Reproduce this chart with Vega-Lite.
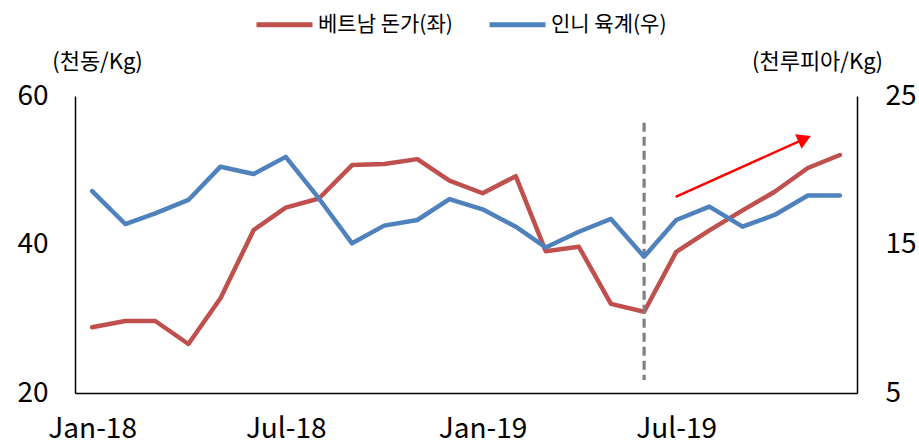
{
  "$schema": "https://vega.github.io/schema/vega-lite/v6.json",
  "width": 782,
  "height": 297,
  "autosize": {"type": "none"},
  "padding": {"left": 75, "top": 96, "right": 62, "bottom": 51},
  "background": "white",
  "config": {
    "font": "Noto Sans CJK KR",
    "view": {"stroke": null},
    "axis": {
      "grid": false,
      "ticks": false,
      "tickSize": 0,
      "domainColor": "#000000",
      "domainWidth": 1.5,
      "labelFont": "Noto Sans CJK KR",
      "labelColor": "#000000",
      "labelFontSize": 28,
      "labelFlush": false,
      "labelOverlap": false,
      "titleFont": "Noto Sans CJK KR",
      "titleFontSize": 22,
      "titleFontWeight": "normal",
      "titleColor": "#000000"
    }
  },
  "datasets": {
    "series": [
      {"date": "2018-01-01T00:00:00", "series": "베트남 돈가(좌)", "v": 28.85},
      {"date": "2018-02-01T00:00:00", "series": "베트남 돈가(좌)", "v": 29.7},
      {"date": "2018-03-01T00:00:00", "series": "베트남 돈가(좌)", "v": 29.7},
      {"date": "2018-04-01T00:00:00", "series": "베트남 돈가(좌)", "v": 26.6},
      {"date": "2018-05-01T00:00:00", "series": "베트남 돈가(좌)", "v": 32.75},
      {"date": "2018-06-01T00:00:00", "series": "베트남 돈가(좌)", "v": 41.95},
      {"date": "2018-07-01T00:00:00", "series": "베트남 돈가(좌)", "v": 44.96},
      {"date": "2018-08-01T00:00:00", "series": "베트남 돈가(좌)", "v": 46.2},
      {"date": "2018-09-01T00:00:00", "series": "베트남 돈가(좌)", "v": 50.7},
      {"date": "2018-10-01T00:00:00", "series": "베트남 돈가(좌)", "v": 50.84},
      {"date": "2018-11-01T00:00:00", "series": "베트남 돈가(좌)", "v": 51.5},
      {"date": "2018-12-01T00:00:00", "series": "베트남 돈가(좌)", "v": 48.6},
      {"date": "2019-01-01T00:00:00", "series": "베트남 돈가(좌)", "v": 46.9},
      {"date": "2019-02-01T00:00:00", "series": "베트남 돈가(좌)", "v": 49.2},
      {"date": "2019-03-01T00:00:00", "series": "베트남 돈가(좌)", "v": 39.1},
      {"date": "2019-04-01T00:00:00", "series": "베트남 돈가(좌)", "v": 39.7},
      {"date": "2019-05-01T00:00:00", "series": "베트남 돈가(좌)", "v": 32.0},
      {"date": "2019-06-01T00:00:00", "series": "베트남 돈가(좌)", "v": 30.95},
      {"date": "2019-07-01T00:00:00", "series": "베트남 돈가(좌)", "v": 39.0},
      {"date": "2019-08-01T00:00:00", "series": "베트남 돈가(좌)", "v": 41.9},
      {"date": "2019-09-01T00:00:00", "series": "베트남 돈가(좌)", "v": 44.6},
      {"date": "2019-10-01T00:00:00", "series": "베트남 돈가(좌)", "v": 47.1},
      {"date": "2019-11-01T00:00:00", "series": "베트남 돈가(좌)", "v": 50.3},
      {"date": "2019-12-01T00:00:00", "series": "베트남 돈가(좌)", "v": 52.05},
      {"date": "2018-01-01T00:00:00", "series": "인니 육계(우)", "v": 18.6},
      {"date": "2018-02-01T00:00:00", "series": "인니 육계(우)", "v": 16.38},
      {"date": "2018-03-01T00:00:00", "series": "인니 육계(우)", "v": 17.1},
      {"date": "2018-04-01T00:00:00", "series": "인니 육계(우)", "v": 18.0},
      {"date": "2018-05-01T00:00:00", "series": "인니 육계(우)", "v": 20.24},
      {"date": "2018-06-01T00:00:00", "series": "인니 육계(우)", "v": 19.75},
      {"date": "2018-07-01T00:00:00", "series": "인니 육계(우)", "v": 20.9},
      {"date": "2018-08-01T00:00:00", "series": "인니 육계(우)", "v": 18.1},
      {"date": "2018-09-01T00:00:00", "series": "인니 육계(우)", "v": 15.08},
      {"date": "2018-10-01T00:00:00", "series": "인니 육계(우)", "v": 16.27},
      {"date": "2018-11-01T00:00:00", "series": "인니 육계(우)", "v": 16.65},
      {"date": "2018-12-01T00:00:00", "series": "인니 육계(우)", "v": 18.06},
      {"date": "2019-01-01T00:00:00", "series": "인니 육계(우)", "v": 17.37},
      {"date": "2019-02-01T00:00:00", "series": "인니 육계(우)", "v": 16.2},
      {"date": "2019-03-01T00:00:00", "series": "인니 육계(우)", "v": 14.8},
      {"date": "2019-04-01T00:00:00", "series": "인니 육계(우)", "v": 15.86},
      {"date": "2019-05-01T00:00:00", "series": "인니 육계(우)", "v": 16.72},
      {"date": "2019-06-01T00:00:00", "series": "인니 육계(우)", "v": 14.18},
      {"date": "2019-07-01T00:00:00", "series": "인니 육계(우)", "v": 16.65},
      {"date": "2019-08-01T00:00:00", "series": "인니 육계(우)", "v": 17.55},
      {"date": "2019-09-01T00:00:00", "series": "인니 육계(우)", "v": 16.2},
      {"date": "2019-10-01T00:00:00", "series": "인니 육계(우)", "v": 16.99},
      {"date": "2019-11-01T00:00:00", "series": "인니 육계(우)", "v": 18.3},
      {"date": "2019-12-01T00:00:00", "series": "인니 육계(우)", "v": 18.3}
    ],
    "divider": [
      {"date": "2019-06-01T00:00:00", "v": 56.4, "v2": 21.75}
    ],
    "arrow": [
      {"date": "2019-06-30T12:00:00", "v": 46.4},
      {"date": "2019-10-29T00:00:00", "v": 54.24}
    ],
    "arrowhead": [
      {"date": "2019-10-29T00:00:00", "v": 54.24}
    ]
  },
  "encoding": {
    "x": {
      "field": "date",
      "type": "temporal",
      "scale": {"domain": [{"year": 2017, "month": 12, "date": 16}, {"year": 2019, "month": 12, "date": 17}]},
      "axis": {
        "title": null,
        "format": "%b-%y",
        "values": [
          {"year": 2018, "month": 1, "date": 1},
          {"year": 2018, "month": 7, "date": 1},
          {"year": 2019, "month": 1, "date": 1},
          {"year": 2019, "month": 7, "date": 1}
        ],
        "labelPadding": 22,
        "labelFontSize": 28
      }
    }
  },
  "layer": [
    {
      "layer": [
        {
          "data": {"name": "series"},
          "transform": [{"filter": "datum.series === '베트남 돈가(좌)'"}],
          "mark": {"type": "line", "strokeWidth": 4.5, "strokeJoin": "round", "strokeCap": "round"},
          "encoding": {
            "y": {
              "field": "v", "type": "quantitative",
              "scale": {"domain": [20, 60], "nice": false, "zero": false},
              "axis": {"title": "(천동/Kg)", "values": [20, 40, 60], "labelPadding": 27, "titleAngle": 0, "titleAlign": "center", "titleBaseline": "middle", "titleX": 22, "titleY": -35}
            },
            "color": {
              "field": "series", "type": "nominal",
              "scale": {"domain": ["베트남 돈가(좌)", "인니 육계(우)"], "range": ["#C0504D", "#4F81BD"]},
              "legend": {
                "orient": "none", "legendX": 179, "legendY": -102, "direction": "horizontal",
                "title": null, "symbolType": "stroke", "symbolSize": 3136, "symbolStrokeWidth": 5,
                "labelFont": "Noto Sans CJK KR", "labelFontSize": 21, "labelColor": "#000000",
                "columnPadding": 26, "padding": 0, "labelOffset": 3
              }
            }
          }
        },
        {
          "data": {"name": "divider"},
          "mark": {"type": "rule", "color": "#808080", "strokeWidth": 3.2, "strokeDash": [9, 5]},
          "encoding": {
            "y": {"field": "v", "type": "quantitative", "axis": {"title": "(천동/Kg)", "values": [20, 40, 60], "labelPadding": 27, "titleAngle": 0, "titleAlign": "center", "titleBaseline": "middle", "titleX": 22, "titleY": -35}},
            "y2": {"field": "v2"}
          }
        },
        {
          "data": {"name": "arrow"},
          "mark": {"type": "line", "color": "#FF0000", "strokeWidth": 2.5},
          "encoding": {
            "y": {"field": "v", "type": "quantitative", "axis": {"title": "(천동/Kg)", "values": [20, 40, 60], "labelPadding": 27, "titleAngle": 0, "titleAlign": "center", "titleBaseline": "middle", "titleX": 22, "titleY": -35}}
          }
        },
        {
          "data": {"name": "arrowhead"},
          "mark": {"type": "point", "shape": "triangle-up", "filled": true, "color": "#FF0000", "opacity": 1, "size": 250, "angle": 65.8},
          "encoding": {
            "y": {"field": "v", "type": "quantitative", "axis": {"title": "(천동/Kg)", "values": [20, 40, 60], "labelPadding": 27, "titleAngle": 0, "titleAlign": "center", "titleBaseline": "middle", "titleX": 22, "titleY": -35}}
          }
        }
      ]
    },
    {
      "data": {"name": "series"},
      "transform": [{"filter": "datum.series === '인니 육계(우)'"}],
      "mark": {"type": "line", "strokeWidth": 4.5, "strokeJoin": "round", "strokeCap": "round"},
      "encoding": {
        "y": {
          "field": "v", "type": "quantitative",
          "scale": {"domain": [5, 25], "nice": false, "zero": false},
          "axis": {"orient": "right", "title": "(천루피아/Kg)", "values": [5, 15, 25], "labelPadding": 28, "titleAngle": 0, "titleAlign": "center", "titleBaseline": "middle", "titleX": -40, "titleY": -35}
        },
        "color": {"field": "series", "type": "nominal"}
      }
    }
  ],
  "resolve": {"scale": {"y": "independent"}}
}
